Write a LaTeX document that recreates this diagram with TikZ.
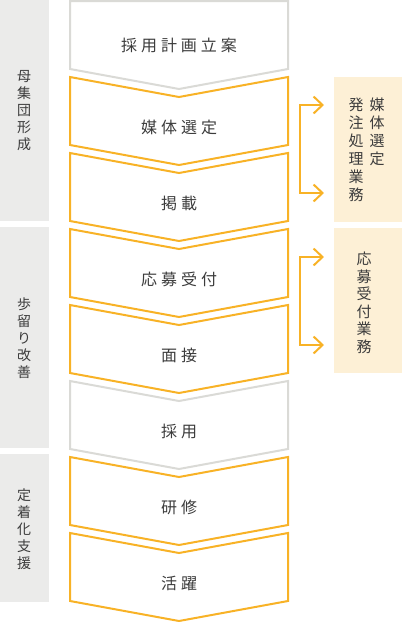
\documentclass[tikz,border=0pt]{standalone}
\usepackage{fontspec}
\setmainfont{Noto Sans CJK JP}
\newfontfamily\jpspaced[LetterSpace=25]{Noto Sans CJK JP}
\usetikzlibrary{arrows.meta}
\definecolor{orng}{HTML}{F8B226}
\definecolor{grline}{HTML}{DADAD6}
\definecolor{leftbg}{HTML}{EBEBEA}
\definecolor{rightbg}{HTML}{FDF0D6}
\definecolor{txt}{HTML}{3C3C3C}
\tikzset{
  chev/.style={line width=2pt, line join=miter, fill=white},
  mainlbl/.style={inner sep=0pt, text=txt, font=\jpspaced\fontsize{16}{19}\selectfont},
  vlbl/.style={inner sep=0pt, text=txt, align=center, font=\fontsize{14}{17}\selectfont},
  rlbl/.style={inner sep=0pt, text=txt, align=center, font=\fontsize{15}{18}\selectfont},
  brk/.style={draw=orng, line width=2pt, {Straight Barb[length=9pt,width=17pt,line width=2pt]}-{Straight Barb[length=9pt,width=17pt,line width=2pt]}},
}
\begin{document}
\begin{tikzpicture}[x=1pt,y=-1pt]
\useasboundingbox (0,0) rectangle (402,622);
% left group backgrounds
\fill[leftbg] (0,0) rectangle (49,221);
\fill[leftbg] (0,227) rectangle (49,448);
\fill[leftbg] (0,454) rectangle (49,602);
\node[vlbl] (g1) at (24,111) {母\\集\\団\\形\\成};
\node[vlbl] (g2) at (24,338) {歩\\留\\り\\改\\善};
\node[vlbl] (g3) at (24,529) {定\\着\\化\\支\\援};
% right boxes
\fill[rightbg] (334,77) rectangle (402,222);
\fill[rightbg] (334,228) rectangle (402,373);
\node[rlbl] (r1a) at (377,132) {媒\\体\\選\\定};
\node[rlbl] (r1b) at (356,150) {発\\注\\処\\理\\業\\務};
\node[rlbl, font=\fontsize{15}{17.5}\selectfont] (r2) at (364,303) {応\\募\\受\\付\\業\\務};
% chevrons
\foreach \i/\c/\n in {0/grline/0,1/orng/20,2/orng/20,3/orng/20,4/orng/20,5/grline/20,6/orng/20,7/orng/20}{
  \pgfmathsetmacro{\yt}{1+76*\i}
  \draw[chev, draw=\c] (70,\yt) -- (179,\yt+\n) -- (288,\yt) -- (288,\yt+68) -- (179,\yt+88) -- (70,\yt+68) -- cycle;
}
\node[mainlbl] (s1) at (179,45) {採用計画立案};
\node[mainlbl] (s2) at (179,127) {媒体選定};
\node[mainlbl] (s3) at (179,203) {掲載};
\node[mainlbl] (s4) at (179,279) {応募受付};
\node[mainlbl] (s5) at (179,355) {面接};
\node[mainlbl] (s6) at (179,431) {採用};
\node[mainlbl] (s7) at (179,507) {研修};
\node[mainlbl] (s8) at (179,583) {活躍};
% brackets
\coordinate (b1a) at (324,105);
\coordinate (b1b) at (324,193);
\coordinate (b2a) at (324,257);
\coordinate (b2b) at (324,345);
\draw[brk] (b1a) -- (300,105) -- (300,193) -- (b1b);
\draw[brk] (b2a) -- (300,257) -- (300,345) -- (b2b);
\end{tikzpicture}
\end{document}
